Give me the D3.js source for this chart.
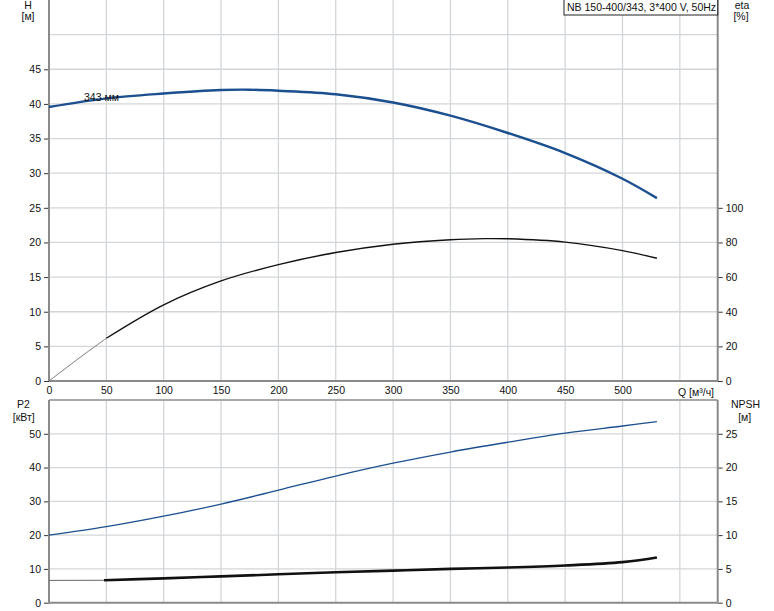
<!DOCTYPE html>
<html><head><meta charset="utf-8">
<script src="https://cdn.jsdelivr.net/npm/d3@7"></script>
<style>body{margin:0;background:#fff}svg{display:block;font-family:"Liberation Sans",Arial,sans-serif}</style>
</head><body><svg id="c" width="774" height="611"></svg>
<script>
// ---- data ----
const qTicks = [0,50,100,150,200,250,300,350,400,450,500];
const hTicks = [0,5,10,15,20,25,30,35,40,45];
const etaTicks = [0,20,40,60,80,100];
const p2Ticks = [0,10,20,30,40,50];
const npshTicks = [0,5,10,15,20,25];

const hQ = [0,50,100,150,175,200,250,300,350,400,450,500,530];
const hVal = [39.55,40.8,41.5,42.0,42.05,41.9,41.4,40.2,38.3,35.8,32.9,29.2,26.4];

const etaQ = [0,25,50,100,150,200,250,300,350,380,400,450,500,530];
const etaVal = [0,12.6,24.7,44.0,57.8,67.2,74.2,79.0,81.6,82.2,82.1,80.2,75.3,70.9];

const p2Q = [0,50,100,150,200,250,300,350,400,450,500,530];
const p2Val = [20,22.5,25.6,29.2,33.3,37.5,41.3,44.6,47.5,50.2,52.3,53.6];

const npQ = [0,48,100,150,200,250,300,350,400,450,500,530];
const npVal = [3.3,3.32,3.6,3.9,4.2,4.5,4.75,5.0,5.2,5.5,6.0,6.7];

const title = "NB 150-400/343, 3*400 V, 50Hz";
const curveLabel = "343 мм";

// ---- layout ----
const svg = d3.select("#c");
const x = d3.scaleLinear().domain([0,583]).range([49,717.7]);
const yH = d3.scaleLinear().domain([0,55]).range([381,0]);
const yEta = d3.scaleLinear().domain([0,220]).range([381,0]);
const yP = d3.scaleLinear().domain([0,60]).range([602.7,400]);
const yN = d3.scaleLinear().domain([0,30]).range([602.7,400]);

const gridC = "#d3d6d9", axisC = "#8a8a8a", txt = "#111";

// grids top
const g1 = svg.append("g");
g1.selectAll(".vg").data(qTicks.concat([550]).filter(d=>d>0)).join("line")
  .attr("x1",d=>x(d)).attr("x2",d=>x(d)).attr("y1",0).attr("y2",381)
  .attr("stroke",gridC).attr("stroke-width",1.3);
g1.selectAll(".hg").data(hTicks.concat([50]).filter(d=>d>0)).join("line")
  .attr("x1",49).attr("x2",717.7).attr("y1",d=>yH(d)).attr("y2",d=>yH(d))
  .attr("stroke",gridC).attr("stroke-width",1.3);
// grids bottom
const g2 = svg.append("g");
g2.selectAll(".vg").data(qTicks.concat([550]).filter(d=>d>0)).join("line")
  .attr("x1",d=>x(d)).attr("x2",d=>x(d)).attr("y1",400).attr("y2",602.7)
  .attr("stroke",gridC).attr("stroke-width",1.3);
g2.selectAll(".hg").data(p2Ticks.filter(d=>d>0)).join("line")
  .attr("x1",49).attr("x2",717.7).attr("y1",d=>yP(d)).attr("y2",d=>yP(d))
  .attr("stroke",gridC).attr("stroke-width",1.3);
svg.append("line").attr("x1",49).attr("x2",717.7).attr("y1",400).attr("y2",400)
  .attr("stroke","#a8a8a8").attr("stroke-width",2);

// axes
function styleAxis(g){
  g.select(".domain").remove();
  g.selectAll(".tick line").attr("stroke","#333").attr("stroke-width",1);
  g.selectAll(".tick text").attr("fill",txt).attr("font-size","10.5px")
   .attr("font-family","'Liberation Sans',Arial,sans-serif");
}
svg.append("g").attr("transform","translate(49,0)")
  .call(d3.axisLeft(yH).tickValues(hTicks).tickSize(5).tickPadding(3)).call(styleAxis);
svg.append("g").attr("transform","translate(717.7,0)")
  .call(d3.axisRight(yEta).tickValues(etaTicks).tickSize(5).tickPadding(3)).call(styleAxis);
svg.append("g").attr("transform","translate(0,381)")
  .call(d3.axisBottom(x).tickValues(qTicks).tickSize(0).tickPadding(6)).call(styleAxis);
svg.append("g").attr("transform","translate(49,0)")
  .call(d3.axisLeft(yP).tickValues(p2Ticks).tickSize(5).tickPadding(3)).call(styleAxis);
svg.append("g").attr("transform","translate(717.7,0)")
  .call(d3.axisRight(yN).tickValues(npshTicks).tickSize(5).tickPadding(3)).call(styleAxis);

// frame lines
const fr = [[49,0,49,381],[49,381,717.7,381],[717.7,0,717.7,381],
            [49,400,49,602.7],[49,602.7,717.7,602.7],[717.7,400,717.7,602.7]];
svg.selectAll(".fr").data(fr).join("line")
  .attr("x1",d=>d[0]).attr("y1",d=>d[1]).attr("x2",d=>d[2]).attr("y2",d=>d[3])
  .attr("stroke",axisC).attr("stroke-width",2);

// curves
const mk = (Q,V)=>Q.map((q,i)=>({q,v:V[i]}));
const lineOf = ys => d3.line().x(d=>x(d.q)).y(d=>ys(d.v)).curve(d3.curveCatmullRom.alpha(0.5));

const hData = mk(hQ,hVal);
svg.append("path").datum(hData).attr("d",lineOf(yH))
  .attr("fill","none").attr("stroke","#1b4f8f").attr("stroke-width",2.4);

const etaData = mk(etaQ,etaVal);
svg.append("path").datum(etaData.filter(d=>d.q<=50)).attr("d",lineOf(yEta))
  .attr("fill","none").attr("stroke","#777").attr("stroke-width",1);
svg.append("path").datum(etaData.filter(d=>d.q>=50)).attr("d",lineOf(yEta))
  .attr("fill","none").attr("stroke","#111").attr("stroke-width",1.4);

const p2Data = mk(p2Q,p2Val);
svg.append("path").datum(p2Data).attr("d",lineOf(yP))
  .attr("fill","none").attr("stroke","#1b4f8f").attr("stroke-width",1.3);

const npData = mk(npQ,npVal);
svg.append("path").datum(npData.filter(d=>d.q<=48)).attr("d",lineOf(yN))
  .attr("fill","none").attr("stroke","#666").attr("stroke-width",1);
svg.append("path").datum(npData.filter(d=>d.q>=48)).attr("d",lineOf(yN))
  .attr("fill","none").attr("stroke","#111").attr("stroke-width",2.6);

// texts
const T = (s,xx,yy,anchor="middle",fs=10.5)=>svg.append("text").text(s)
  .attr("x",xx).attr("y",yy).attr("text-anchor",anchor).attr("font-size",fs+"px").attr("fill",txt);
T("H",28,8.5); T("[м]",28,20);
T("eta",742,9); T("[%]",741,20);
T("P2",23.5,407.5); T("[кВт]",23.7,420.5);
T("NPSH",745.5,407.5); T("[м]",744.7,421);
T("Q [м³/ч]",678,396,"start");
T(curveLabel,84,100.5,"start");

// title box
svg.append("rect").attr("x",564).attr("y",-1).attr("width",153.7).attr("height",16)
  .attr("fill","#fff").attr("stroke","#222").attr("stroke-width",1);
T(title,567,11,"start",10.5);
</script></body></html>
